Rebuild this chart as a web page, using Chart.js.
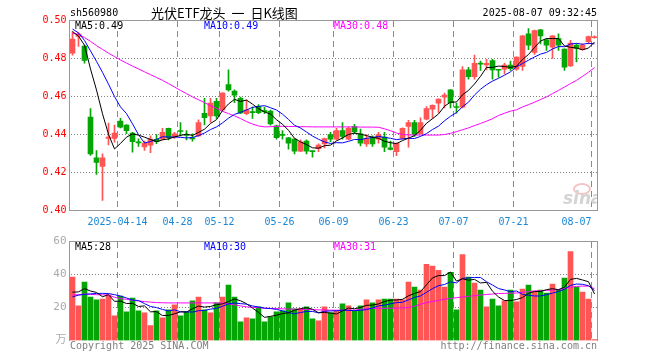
<!DOCTYPE html>
<html><head><meta charset="utf-8">
<script src="https://cdn.jsdelivr.net/npm/chart.js@4.4.1/dist/chart.umd.min.js"></script>
<style>
html,body{margin:0;padding:0;background:#fff;}
#wrap{position:relative;width:660px;height:360px;overflow:hidden;background:#fff;}
canvas{position:absolute;left:0;}
.t{position:absolute;white-space:pre;font-family:"DejaVu Sans Mono",monospace;font-size:10px;line-height:10px;}
</style></head><body>
<div id="wrap">
<canvas id="k" width="660" height="232" style="top:0"></canvas>
<canvas id="v" width="660" height="128" style="top:232px"></canvas>
<div class="t" style="left:70px;top:8px;color:#000">sh560980</div>
<div class="t" style="left:151px;top:6px;font-family:'Noto Sans CJK SC';font-size:13px;line-height:13px;word-spacing:3px;color:#000">光伏ETF龙头 一 日K线图</div>
<div class="t" style="right:63px;top:8px;color:#000">2025-08-07 09:32:45</div>
<div class="t" style="left:75px;top:21px;color:#000">MA5:0.49</div>
<div class="t" style="left:204px;top:21px;color:#0000ff">MA10:0.49</div>
<div class="t" style="left:334px;top:21px;color:#ff00ff">MA30:0.48</div>
<div class="t" style="left:75px;top:242px;color:#000">MA5:28</div>
<div class="t" style="left:204px;top:242px;color:#0000ff">MA10:30</div>
<div class="t" style="left:334px;top:242px;color:#ff00ff">MA30:31</div>
<div class="t" style="left:70px;top:341px;color:#808080">Copyright 2025 SINA.COM</div>
<div class="t" style="right:63px;top:341px;color:#808080">http://finance.sina.com.cn</div>
<div style="position:absolute;left:560px;top:182px;width:37px;height:28px;overflow:hidden;">
  <div style="position:absolute;left:13px;top:1px;width:14px;height:8px;border:2px solid #f4c4c4;border-radius:50%;"></div>
  <div class="t" style="left:3px;top:8px;font-family:'DejaVu Sans';font-weight:bold;font-style:italic;font-size:17px;line-height:17px;color:#d4d4d4">sina</div>
</div>
</div>
<script>
// ---- data ----
const dates = [
'2025-04-01','2025-04-02','2025-04-03','2025-04-07','2025-04-08','2025-04-09','2025-04-10','2025-04-11','2025-04-14','2025-04-15',
'2025-04-16','2025-04-17','2025-04-18','2025-04-21','2025-04-22','2025-04-23','2025-04-24','2025-04-25','2025-04-28','2025-04-29',
'2025-04-30','2025-05-06','2025-05-07','2025-05-08','2025-05-09','2025-05-12','2025-05-13','2025-05-14','2025-05-15','2025-05-16',
'2025-05-19','2025-05-20','2025-05-21','2025-05-22','2025-05-23','2025-05-26','2025-05-27','2025-05-28','2025-05-29','2025-05-30',
'2025-06-03','2025-06-04','2025-06-05','2025-06-06','2025-06-09','2025-06-10','2025-06-11','2025-06-12','2025-06-13','2025-06-16',
'2025-06-17','2025-06-18','2025-06-19','2025-06-20','2025-06-23','2025-06-24','2025-06-25','2025-06-26','2025-06-27','2025-06-30',
'2025-07-01','2025-07-02','2025-07-03','2025-07-04','2025-07-07','2025-07-08','2025-07-09','2025-07-10','2025-07-11','2025-07-14',
'2025-07-15','2025-07-16','2025-07-17','2025-07-18','2025-07-21','2025-07-22','2025-07-23','2025-07-24','2025-07-25','2025-07-28',
'2025-07-29','2025-07-30','2025-07-31','2025-08-01','2025-08-04','2025-08-05','2025-08-06','2025-08-07'];
const tickDates  = ['2025-04-14','2025-04-28','2025-05-12','2025-05-26','2025-06-09','2025-06-23','2025-07-07','2025-07-21','2025-08-07'];
const tickLabels = ['2025-04-14','04-28','05-12','05-26','06-09','06-23','07-07','07-21','08-07'];
const priceTicks = [0.40,0.42,0.44,0.46,0.48,0.50];
const volTicks = [0,20,40,60];

const open = [
0.4828,0.4916,0.4865,0.4492,0.4277,0.4232,0.4379,0.4380,0.4471,0.4450,
0.4407,0.4362,0.4334,0.4344,0.4375,0.4376,0.4432,0.4390,0.4421,0.4400,
0.4382,0.4393,0.4512,0.4498,0.4575,0.4530,0.4663,0.4628,0.4590,0.4510,
0.4520,0.4547,0.4526,0.4523,0.4446,0.4400,0.4383,0.4376,0.4312,0.4365,
0.4312,0.4326,0.4351,0.4400,0.4376,0.4421,0.4376,0.4442,0.4404,0.4351,
0.4383,0.4376,0.4386,0.4330,0.4309,0.4379,0.4442,0.4463,0.4404,0.4481,
0.4533,0.4565,0.4597,0.4635,0.4547,0.4544,0.4740,0.4705,0.4775,0.4766,
0.4789,0.4740,0.4744,0.4765,0.4744,0.4758,0.4930,0.4832,0.4951,0.4898,
0.4860,0.4905,0.4849,0.4761,0.4870,0.4846,0.4888,0.4909];
const close = [
0.4902,0.4928,0.4790,0.4298,0.4253,0.4277,0.4387,0.4407,0.4439,0.4420,
0.4362,0.4356,0.4355,0.4376,0.4362,0.4411,0.4383,0.4404,0.4416,0.4395,
0.4377,0.4463,0.4488,0.4565,0.4498,0.4618,0.4635,0.4607,0.4513,0.4530,
0.4515,0.4515,0.4520,0.4456,0.4383,0.4395,0.4355,0.4312,0.4362,0.4312,
0.4310,0.4344,0.4379,0.4376,0.4421,0.4390,0.4432,0.4414,0.4355,0.4379,
0.4351,0.4400,0.4333,0.4321,0.4354,0.4432,0.4463,0.4400,0.4463,0.4537,
0.4554,0.4586,0.4607,0.4568,0.4542,0.4740,0.4705,0.4775,0.4770,0.4775,
0.4740,0.4738,0.4765,0.4746,0.4807,0.4919,0.4870,0.4947,0.4919,0.4870,
0.4919,0.4870,0.4754,0.4881,0.4853,0.4870,0.4916,0.4914];
const high = [
0.4942,0.4937,0.4870,0.4537,0.4316,0.4298,0.4460,0.4450,0.4485,0.4452,
0.4412,0.4377,0.4365,0.4393,0.4400,0.4432,0.4434,0.4411,0.4463,0.4421,
0.4404,0.4477,0.4590,0.4590,0.4590,0.4621,0.4740,0.4635,0.4597,0.4583,
0.4544,0.4557,0.4544,0.4528,0.4449,0.4421,0.4385,0.4378,0.4372,0.4372,
0.4313,0.4351,0.4381,0.4411,0.4432,0.4463,0.4439,0.4453,0.4428,0.4400,
0.4393,0.4411,0.4411,0.4365,0.4356,0.4435,0.4474,0.4474,0.4488,0.4547,
0.4556,0.4588,0.4618,0.4637,0.4565,0.4758,0.4754,0.4818,0.4786,0.4796,
0.4796,0.4742,0.4775,0.4786,0.4809,0.4921,0.4958,0.4949,0.4953,0.4905,
0.4921,0.4930,0.4851,0.4895,0.4877,0.4877,0.4918,0.4919];
const low = [
0.4818,0.4863,0.4775,0.4290,0.4190,0.4053,0.4345,0.4360,0.4435,0.4404,
0.4307,0.4337,0.4316,0.4305,0.4352,0.4372,0.4372,0.4380,0.4393,0.4372,
0.4365,0.4390,0.4450,0.4463,0.4484,0.4526,0.4628,0.4568,0.4510,0.4504,
0.4484,0.4509,0.4509,0.4449,0.4376,0.4376,0.4323,0.4298,0.4309,0.4298,
0.4281,0.4309,0.4330,0.4362,0.4372,0.4376,0.4372,0.4404,0.4340,0.4337,
0.4337,0.4354,0.4309,0.4319,0.4288,0.4376,0.4333,0.4390,0.4402,0.4477,
0.4484,0.4516,0.4540,0.4540,0.4512,0.4540,0.4691,0.4691,0.4737,0.4740,
0.4691,0.4702,0.4719,0.4737,0.4737,0.4737,0.4846,0.4821,0.4877,0.4842,
0.4800,0.4842,0.4737,0.4758,0.4782,0.4844,0.4877,0.4907];
const ma5 = [
0.4942,0.4918,0.4870,0.4745,0.4634,0.4509,0.4401,0.4324,0.4353,0.4386,
0.4403,0.4397,0.4386,0.4374,0.4362,0.4372,0.4377,0.4387,0.4395,0.4402,
0.4395,0.4411,0.4428,0.4458,0.4478,0.4526,0.4561,0.4585,0.4574,0.4581,
0.4560,0.4536,0.4519,0.4507,0.4478,0.4454,0.4422,0.4380,0.4361,0.4347,
0.4330,0.4328,0.4341,0.4344,0.4366,0.4382,0.4400,0.4407,0.4402,0.4394,
0.4386,0.4380,0.4364,0.4357,0.4352,0.4368,0.4381,0.4394,0.4422,0.4459,
0.4483,0.4508,0.4549,0.4570,0.4571,0.4609,0.4632,0.4666,0.4706,0.4753,
0.4753,0.4760,0.4758,0.4753,0.4759,0.4795,0.4821,0.4858,0.4892,0.4905,
0.4905,0.4905,0.4866,0.4859,0.4855,0.4846,0.4855,0.4887];
const ma10 = [
0.4955,0.4935,0.4895,0.4840,0.4785,0.4727,0.4665,0.4600,0.4545,0.4510,
0.4456,0.4399,0.4355,0.4363,0.4374,0.4388,0.4387,0.4387,0.4385,0.4382,
0.4384,0.4394,0.4408,0.4426,0.4440,0.4461,0.4486,0.4506,0.4516,0.4529,
0.4543,0.4548,0.4552,0.4541,0.4529,0.4507,0.4479,0.4449,0.4434,0.4413,
0.4392,0.4375,0.4361,0.4353,0.4357,0.4356,0.4364,0.4374,0.4373,0.4380,
0.4384,0.4390,0.4385,0.4380,0.4373,0.4377,0.4380,0.4379,0.4390,0.4405,
0.4426,0.4444,0.4472,0.4496,0.4515,0.4546,0.4570,0.4608,0.4638,0.4662,
0.4681,0.4696,0.4712,0.4730,0.4756,0.4774,0.4791,0.4808,0.4823,0.4832,
0.4850,0.4863,0.4862,0.4876,0.4880,0.4875,0.4880,0.4877];
const ma30 = [
0.4932,0.4928,0.4910,0.4890,0.4868,0.4848,0.4828,0.4810,0.4792,0.4776,
0.4760,0.4745,0.4730,0.4715,0.4700,0.4685,0.4668,0.4650,0.4632,0.4615,
0.4598,0.4583,0.4568,0.4552,0.4538,0.4522,0.4510,0.4498,0.4484,0.4468,
0.4455,0.4445,0.4440,0.4441,0.4443,0.4443,0.4442,0.4442,0.4441,0.4441,
0.4440,0.4440,0.4440,0.4440,0.4440,0.4440,0.4440,0.4440,0.4439,0.4439,
0.4439,0.4438,0.4430,0.4420,0.4408,0.4400,0.4398,0.4397,0.4397,0.4397,
0.4397,0.4397,0.4400,0.4406,0.4415,0.4425,0.4435,0.4447,0.4458,0.4470,
0.4483,0.4500,0.4512,0.4523,0.4530,0.4545,0.4557,0.4570,0.4584,0.4598,
0.4615,0.4632,0.4650,0.4668,0.4685,0.4706,0.4728,0.4752];
const volume = [
38.4,21.0,35.4,26.4,24.6,25.2,27.6,15.0,27.0,17.4,
25.8,18.0,16.8,9.0,18.0,13.8,18.6,21.6,15.0,17.4,
24.0,26.4,18.6,16.8,22.8,26.4,33.6,26.4,11.4,13.8,
13.2,20.4,11.4,14.4,17.4,18.0,22.8,19.2,19.2,20.4,
13.2,12.0,20.4,17.0,18.0,22.2,21.0,18.0,21.0,24.6,
22.8,24.6,25.2,25.2,25.2,24.6,35.4,32.4,30.6,46.2,
45.2,42.6,32.4,41.4,18.6,52.2,38.4,34.8,30.6,20.4,
25.2,21.0,24.0,30.6,23.4,31.2,33.6,30.0,30.6,28.8,
34.2,30.6,37.8,54.0,32.4,29.4,25.2,0.6];
const vma5 = [
29.3,29.5,31.5,30.0,29.16,26.52,27.84,23.76,23.88,22.44,
22.56,20.64,21.0,17.4,17.52,15.12,15.24,16.2,17.4,17.28,
19.32,20.88,20.28,20.64,21.72,22.2,23.64,25.2,24.12,22.32,
19.68,17.04,14.04,14.64,15.36,16.32,16.8,18.36,19.32,19.92,
18.96,16.8,17.04,16.6,16.12,17.92,19.72,19.24,20.04,21.36,
21.48,22.2,23.64,24.48,24.6,24.96,27.12,28.56,29.64,33.84,
37.96,39.4,39.4,41.56,36.04,37.44,36.6,37.08,34.92,35.28,
29.88,26.4,24.24,24.24,24.84,26.04,28.56,29.76,29.76,30.84,
31.44,30.84,32.4,37.08,37.68,36.72,35.64,28.2];
const vma10 = [
26.5,27.5,28.0,28.3,28.5,28.6,28.5,27.8,27.0,25.8,
24.54,24.24,22.38,20.64,19.98,18.84,17.94,18.6,17.4,17.4,
17.22,18.06,18.24,19.02,19.5,20.76,22.26,22.74,22.38,22.02,
20.94,20.34,19.62,19.38,18.84,18.0,16.92,16.2,16.98,17.64,
17.64,16.8,17.7,17.96,18.02,18.44,18.26,18.14,18.32,18.74,
19.7,20.96,21.44,22.26,22.98,23.22,24.66,26.1,27.06,29.22,
31.46,33.26,33.98,35.6,34.94,37.7,38.0,38.24,38.24,35.66,
33.66,31.5,30.66,29.58,30.06,27.96,27.48,27.0,27.0,27.84,
28.74,29.7,31.08,33.42,34.26,34.08,33.24,30.3];
const vma30 = [
27.6,27.8,28.2,28.0,27.8,27.7,27.6,26.2,25.4,25.0,
24.4,24.0,23.6,23.3,23.0,22.9,22.8,22.8,22.8,22.8,
22.8,22.8,22.8,22.8,22.8,22.6,22.2,21.6,21.0,20.4,
20.1,19.9,19.6,19.5,19.4,19.2,19.1,19.0,18.9,18.8,
18.7,18.6,18.5,18.4,18.4,18.4,18.4,18.4,18.9,19.3,
19.4,19.5,19.5,19.6,19.6,19.8,20.0,20.8,22.0,23.0,
23.7,24.3,25.0,25.5,26.0,26.4,26.8,27.2,27.6,27.9,
28.2,28.5,28.6,28.7,28.8,29.2,29.6,30.0,30.2,30.4,
30.6,30.9,31.5,32.3,32.8,33.0,33.0,31.4];

// ---- styling ----
const UP = '#ff5555', DOWN = '#05a505';
const candleColors = open.map((o, i) => close[i] >= open[i] ? UP : DOWN);
const tickIdx = tickDates.map(d => dates.indexOf(d));
const MONO = '"DejaVu Sans Mono", "Noto Sans CJK SC", monospace';

// dotted/dashed grid, positioned through the chart's own scales
function drawGrid(chart, gridVals) {
  const {ctx, chartArea: a, scales} = chart;
  const x = scales.x, y = scales.y;
  const half = (x.getPixelForValue(1) - x.getPixelForValue(0)) / 2;
  const L = Math.round(a.left - 0.5), R = Math.round(a.right - 0.5);
  const T = Math.round(a.top - 0.5), B = Math.round(a.bottom - 0.5);
  ctx.save();
  ctx.fillStyle = '#808080';
  for (const v of gridVals) {
    const py = Math.round(y.getPixelForValue(v) - 0.5);
    for (let px = L + 2; px < R; px += 3) ctx.fillRect(px, py, 1, 1);
  }
  ctx.fillStyle = '#8a8a8a';
  for (const i of tickIdx) {
    const px = Math.round(x.getPixelForValue(i) - half - 0.5);
    for (let py = T + 1; py < B; py += 10) ctx.fillRect(px, py, 1, Math.min(6, B - py));
  }
  ctx.restore();
}
function drawFrame(chart, bottom) {
  const {ctx, chartArea: a} = chart;
  const L = Math.round(a.left - 0.5), R = Math.round(a.right - 0.5);
  const T = Math.round(a.top - 0.5), B = Math.round(a.bottom - 0.5);
  ctx.save();
  ctx.fillStyle = '#999999';
  ctx.fillRect(L, T, R - L + 1, 1);
  ctx.fillRect(L, T, 1, B - T + 1);
  ctx.fillRect(R, T, 1, B - T + 1);
  if (bottom) ctx.fillRect(L, B, R - L + 1, 1);
  ctx.restore();
}
const frameGrid = (gridVals, bottom) => ({
  id: 'frameGrid',
  beforeDatasetsDraw(chart) {
    drawGrid(chart, gridVals);
    drawFrame(chart, bottom);
  }
});

const dateLabels = {
  id: 'dateLabels',
  afterDraw(chart) {
    const {ctx, scales: {x}} = chart;
    const half = (x.getPixelForValue(1) - x.getPixelForValue(0)) / 2;
    ctx.save();
    ctx.font = '10px ' + MONO;
    ctx.fillStyle = '#1a88d6';
    ctx.textBaseline = 'alphabetic';
    tickIdx.forEach((idx, j) => {
      const px = x.getPixelForValue(idx) - half;
      ctx.textAlign = (j === tickIdx.length - 1) ? 'right' : 'center';
      ctx.fillText(tickLabels[j], px, 224.5);
    });
    ctx.restore();
  }
};

const xAxis = () => ({
  type: 'category', offset: true,
  afterFit(s) { s.height = 0; },
  grid: { display: false, drawTicks: false },
  border: { display: false },
  ticks: { display: false, autoSkip: false, maxRotation: 0 }
});

const lineDs = (data, color) => ({
  type: 'line', data, borderColor: color, borderWidth: 1, pointRadius: 0,
  tension: 0, fill: false, order: 0
});

new Chart(document.getElementById('k'), {
  type: 'bar',
  data: {
    labels: dates,
    datasets: [
      lineDs(ma5, '#000000'),
      lineDs(ma10, '#0000ff'),
      lineDs(ma30, '#ff00ff'),
      { type: 'bar', data: open.map((o, i) => [o, close[i]]), backgroundColor: candleColors,
        barThickness: 5, grouped: false, minBarLength: 1, order: 1 },
      { type: 'bar', data: low.map((l, i) => [l, high[i]]), backgroundColor: candleColors,
        barThickness: 1, grouped: false, minBarLength: 1, order: 2 }
    ]
  },
  options: {
    responsive: false, animation: false, devicePixelRatio: 1,
    layout: { padding: { left: 0, right: 62.5, top: 20.5, bottom: 21.5 } },
    plugins: { legend: { display: false }, tooltip: { enabled: false } },
    scales: {
      x: xAxis(),
      y: {
        min: priceTicks[0], max: priceTicks[priceTicks.length - 1],
        afterFit(s) { s.width = 69.5; },
        afterBuildTicks(s) { s.ticks = priceTicks.map(v => ({ value: v })); },
        ticks: { color: '#ff0000', padding: 3, font: { family: MONO, size: 10 },
                 callback: v => Number(v).toFixed(2) },
        grid: { display: false, drawTicks: false },
        border: { display: false }
      }
    }
  },
  plugins: [frameGrid(priceTicks.slice(1, -1), true), dateLabels]
});

new Chart(document.getElementById('v'), {
  type: 'bar',
  data: {
    labels: dates,
    datasets: [
      lineDs(vma5, '#000000'),
      lineDs(vma10, '#0000ff'),
      lineDs(vma30, '#ff00ff'),
      { type: 'bar', data: volume, backgroundColor: candleColors, barThickness: 5,
        grouped: false, order: 1 }
    ]
  },
  options: {
    responsive: false, animation: false, devicePixelRatio: 1,
    layout: { padding: { left: 0, right: 62.5, top: 8.5, bottom: 19.5 } },
    plugins: { legend: { display: false }, tooltip: { enabled: false } },
    scales: {
      x: xAxis(),
      y: {
        min: 0, max: 60,
        afterFit(s) { s.width = 69.5; },
        afterBuildTicks(s) { s.ticks = volTicks.map(v => ({ value: v })); },
        ticks: { color: '#aaaaaa', padding: 3, font: { family: MONO, size: 11 },
                 callback: v => v === 0 ? '万' : String(v) },
        grid: { display: false, drawTicks: false },
        border: { display: false }
      }
    }
  },
  plugins: [frameGrid(volTicks.slice(1, -1), false)]
});
</script>
</body></html>
